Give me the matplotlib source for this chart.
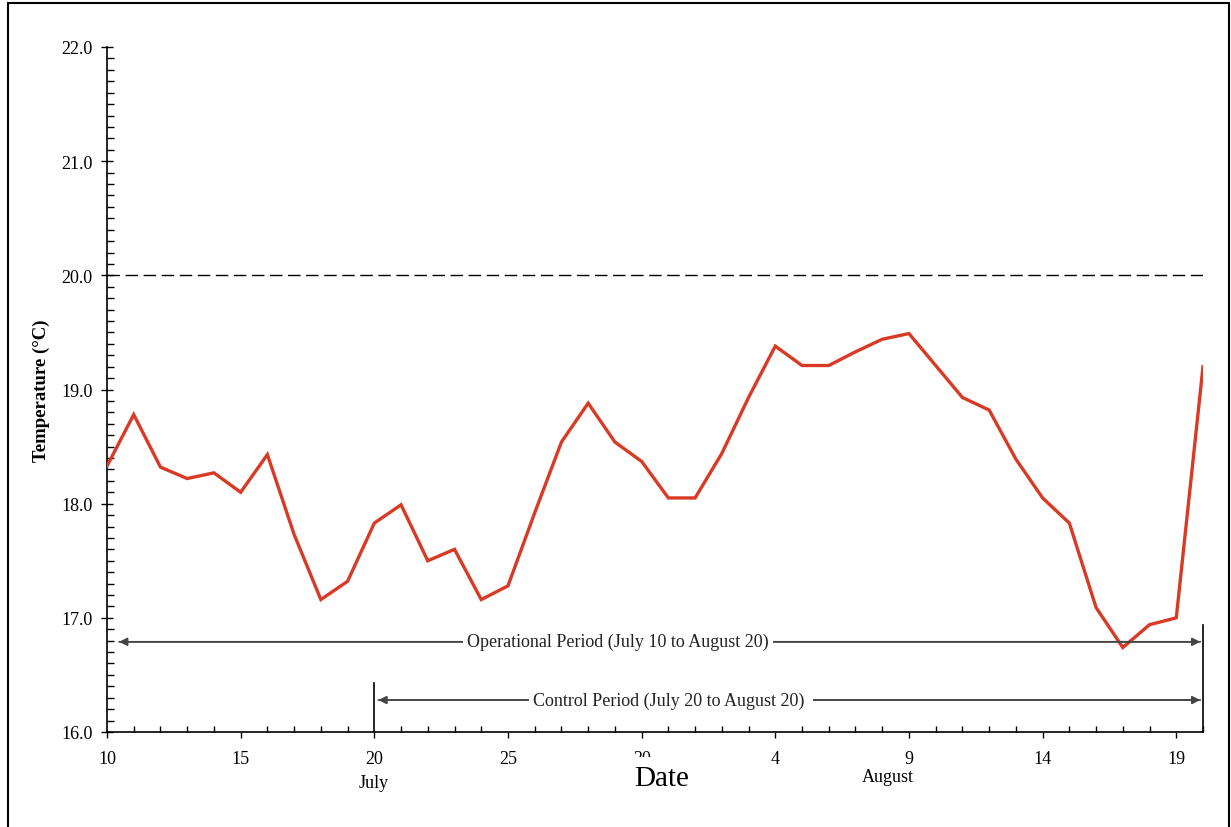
import matplotlib
matplotlib.use("Agg")
import matplotlib.pyplot as plt
from matplotlib.patches import Rectangle
from matplotlib.ticker import MultipleLocator

# ---- data ------------------------------------------------------------------
# day offset from July 10 (0 = Jul 10 ... 41 = Aug 20)
days = list(range(42))
temps = [18.33, 18.78, 18.32, 18.22, 18.27, 18.10, 18.43, 17.73, 17.16, 17.32,
         17.83, 17.99, 17.50, 17.60, 17.16, 17.28, 17.92, 18.54, 18.88, 18.54,
         18.37, 18.05, 18.05, 18.44, 18.93, 19.38, 19.21, 19.21, 19.33, 19.44,
         19.49, 19.21, 18.93, 18.82, 18.39, 18.05, 17.83, 17.09, 16.74, 16.94,
         17.00, 19.20]
tick_days = [0, 5, 10, 15, 20, 25, 30, 35, 40]
tick_labels = ["10", "15", "20", "25", "30", "4", "9", "14", "19"]
threshold = 20.0

plt.rcParams.update({"font.family": ["Liberation Serif", "DejaVu Serif"],
                     "font.size": 13})

fig = plt.figure(figsize=(12.31, 8.28), dpi=100)
ax = fig.add_axes([107 / 1231, 1 - 733 / 828, 1096 / 1231, 685 / 828])

ax.plot(days, temps, color="#d93a26", lw=2.4, solid_joinstyle="miter", zorder=3)
ax.axhline(threshold, color="black", lw=1, dashes=(9, 4), zorder=2)

# period arrows
arr = dict(arrowstyle="-|>", color="#444444", lw=1.2, mutation_scale=12,
           shrinkA=0, shrinkB=0)
ax.annotate("", xy=(0.45, 16.79), xytext=(40.9, 16.79), arrowprops=arr)
ax.annotate("", xy=(40.9, 16.79), xytext=(0.45, 16.79), arrowprops=arr)
ax.text(19.1, 16.79, "Operational Period (July 10 to August 20)", ha="center",
        va="center", fontsize=13, color="#222222",
        bbox=dict(fc="white", ec="none", pad=3), zorder=4)
ax.plot([41, 41], [16.0, 16.94], color="black", lw=1.2, clip_on=False)

ax.annotate("", xy=(10.15, 16.28), xytext=(40.9, 16.28), arrowprops=arr)
ax.annotate("", xy=(40.9, 16.28), xytext=(10.15, 16.28), arrowprops=arr)
ax.text(21.1, 16.28, "Control Period (July 20 to August 20) ", ha="center",
        va="center", fontsize=13, color="#222222",
        bbox=dict(fc="white", ec="none", pad=3), zorder=4)
ax.plot([10, 10], [16.0, 16.43], color="black", lw=1.2)

# axes styling
ax.set_xlim(0, 41)
ax.set_ylim(16.0, 22.0)
for s in ["top", "right"]:
    ax.spines[s].set_visible(False)
ax.spines["left"].set_linewidth(1.2)
ax.spines["bottom"].set_linewidth(1.2)
ax.set_xticks(tick_days)
ax.set_xticklabels(tick_labels)
ax.xaxis.set_minor_locator(MultipleLocator(1))
ax.yaxis.set_major_locator(MultipleLocator(1.0))
ax.yaxis.set_minor_locator(MultipleLocator(0.1))
ax.set_yticklabels([f"{v:.1f}" for v in ax.get_yticks()])
ax.tick_params(axis="x", which="major", direction="out", length=4, width=1, pad=9)
ax.tick_params(axis="x", which="minor", direction="in", length=4, width=1)
ax.tick_params(axis="y", which="major", direction="inout", length=9, width=1, pad=6)
ax.tick_params(axis="y", which="minor", direction="in", length=5, width=1)

ax.set_ylabel("Temperature (°C)", fontsize=13.5, fontweight="bold", labelpad=8)

fig.text(374 / 1231, 1 - 784 / 828, "July", ha="center", va="center", fontsize=13)
fig.text(888 / 1231, 1 - 778 / 828, "August", ha="center", va="center", fontsize=13)
fig.text(662 / 1231, 1 - 779 / 828, "Date", ha="center", va="center", fontsize=21,
         bbox=dict(fc="white", ec="none", pad=6))

# outer frame
fig.patches.append(Rectangle((8 / 1231, -0.01), 1221 / 1231, 1.01 - 4 / 828,
                             transform=fig.transFigure, fill=False,
                             ec="black", lw=1.5))

fig.savefig("out.png", dpi=100)
